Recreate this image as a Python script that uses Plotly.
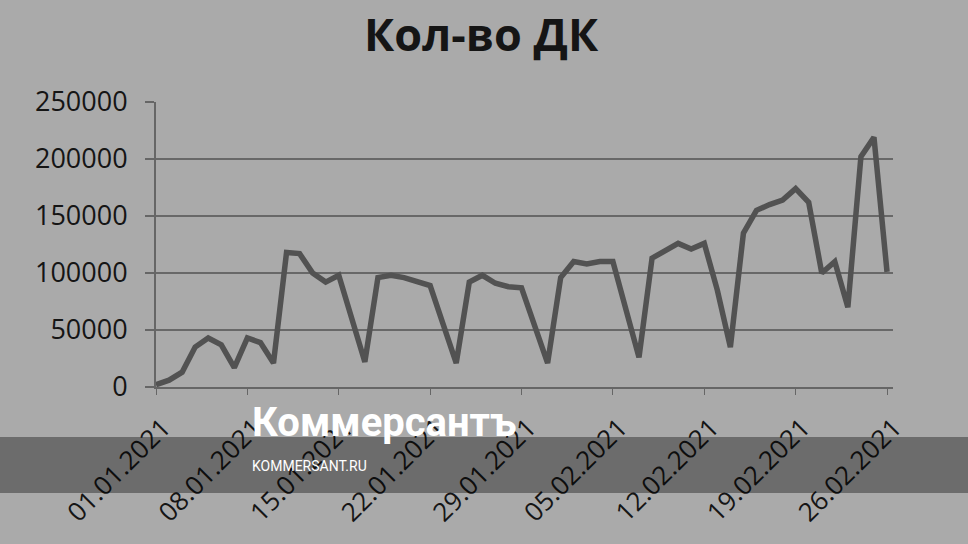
import plotly.graph_objects as go
import pandas as pd

dates = pd.date_range("2021-01-01", "2021-02-26", freq="D")
values = [2000, 6000, 13000, 35000, 43000, 37000, 17000, 43000, 39000, 21000,
          118000, 117000, 100000, 92000, 98000, 60000, 22000, 96000, 98000, 96000,
          92000, 89000, 55000, 21000, 92000, 98000, 91000, 88000, 87000, 55000,
          21000, 96000, 110000, 108000, 110000, 110000, 68000, 26000, 113000, 120000,
          126000, 121000, 126000, 85000, 35000, 135000, 155000, 160000, 164000, 174000,
          162000, 100000, 110000, 70000, 202000, 219000, 101000]
tick_dates = pd.date_range("2021-01-01", "2021-02-26", freq="7D")
tick_labels = [d.strftime("%d.%m.%Y") for d in tick_dates]
y_ticks = [0, 50000, 100000, 150000, 200000, 250000]
title = "Кол-во ДК"

BG = "#aaaaaa"
FONT = "Open Sans"

fig = go.Figure()
fig.add_trace(go.Scatter(
    x=dates, y=values, mode="lines",
    line=dict(color="#525252", width=5.5),
    showlegend=False, hoverinfo="skip"))

fig.update_layout(
    width=968, height=544,
    paper_bgcolor=BG, plot_bgcolor=BG,
    margin=dict(l=156, r=75, t=102, b=157),
    title=dict(text="<b>" + title + "</b>", x=0.497, xanchor="center",
               y=0.935, yanchor="middle",
               font=dict(family=FONT, size=45, color="#151515")),
    font=dict(family=FONT, color="#151515"),
)
fig.update_xaxes(
    range=[pd.Timestamp("2021-01-01"), pd.Timestamp("2021-02-26 11:00")],
    tickmode="array", tickvals=tick_dates, ticktext=tick_labels,
    tickangle=-45, tickfont=dict(size=26, color="#151515"),
    showgrid=False, showline=True, linecolor="#666666", linewidth=2,
    ticks="outside", ticklen=6, tickcolor="#666666", tickwidth=1,
    ticklabelstandoff=7, ticklabelshift=7, automargin=False, zeroline=False)
fig.update_yaxes(
    range=[0, 250000], tickvals=y_ticks, ticktext=[str(v) for v in y_ticks],
    tickfont=dict(size=27, color="#151515"),
    showgrid=True, gridcolor="#686868", gridwidth=2,
    showline=True, linecolor="#666666", linewidth=2,
    ticks="outside", ticklen=9, tickcolor="#666666", tickwidth=2,
    ticklabelstandoff=12, automargin=False, zeroline=False)

# watermark band and text
px_w, px_h = 737.0, 285.0
fig.add_shape(type="rect", xref="paper", yref="paper",
              x0=-156 / px_w, x1=(968 - 156) / px_w,
              y0=(387 - 493) / px_h, y1=(387 - 437) / px_h,
              fillcolor="rgba(0,0,0,0.36)", line=dict(width=0), layer="above")
fig.add_annotation(xref="paper", yref="paper", x=(250 - 156) / px_w,
                   y=(387 - 422) / px_h, xanchor="left", yanchor="middle",
                   text="<b>Коммерсантъ</b>", showarrow=False,
                   font=dict(family="Roboto", size=40, color="white"))
fig.add_annotation(xref="paper", yref="paper", x=(250 - 156) / px_w,
                   y=(387 - 466) / px_h, xanchor="left", yanchor="middle",
                   text="KOMMERSANT.RU", showarrow=False,
                   font=dict(family="Roboto", size=14, color="white"))

fig.write_html("out.html", post_script="document.body.style.margin='0';",
               config={"displayModeBar": False})
